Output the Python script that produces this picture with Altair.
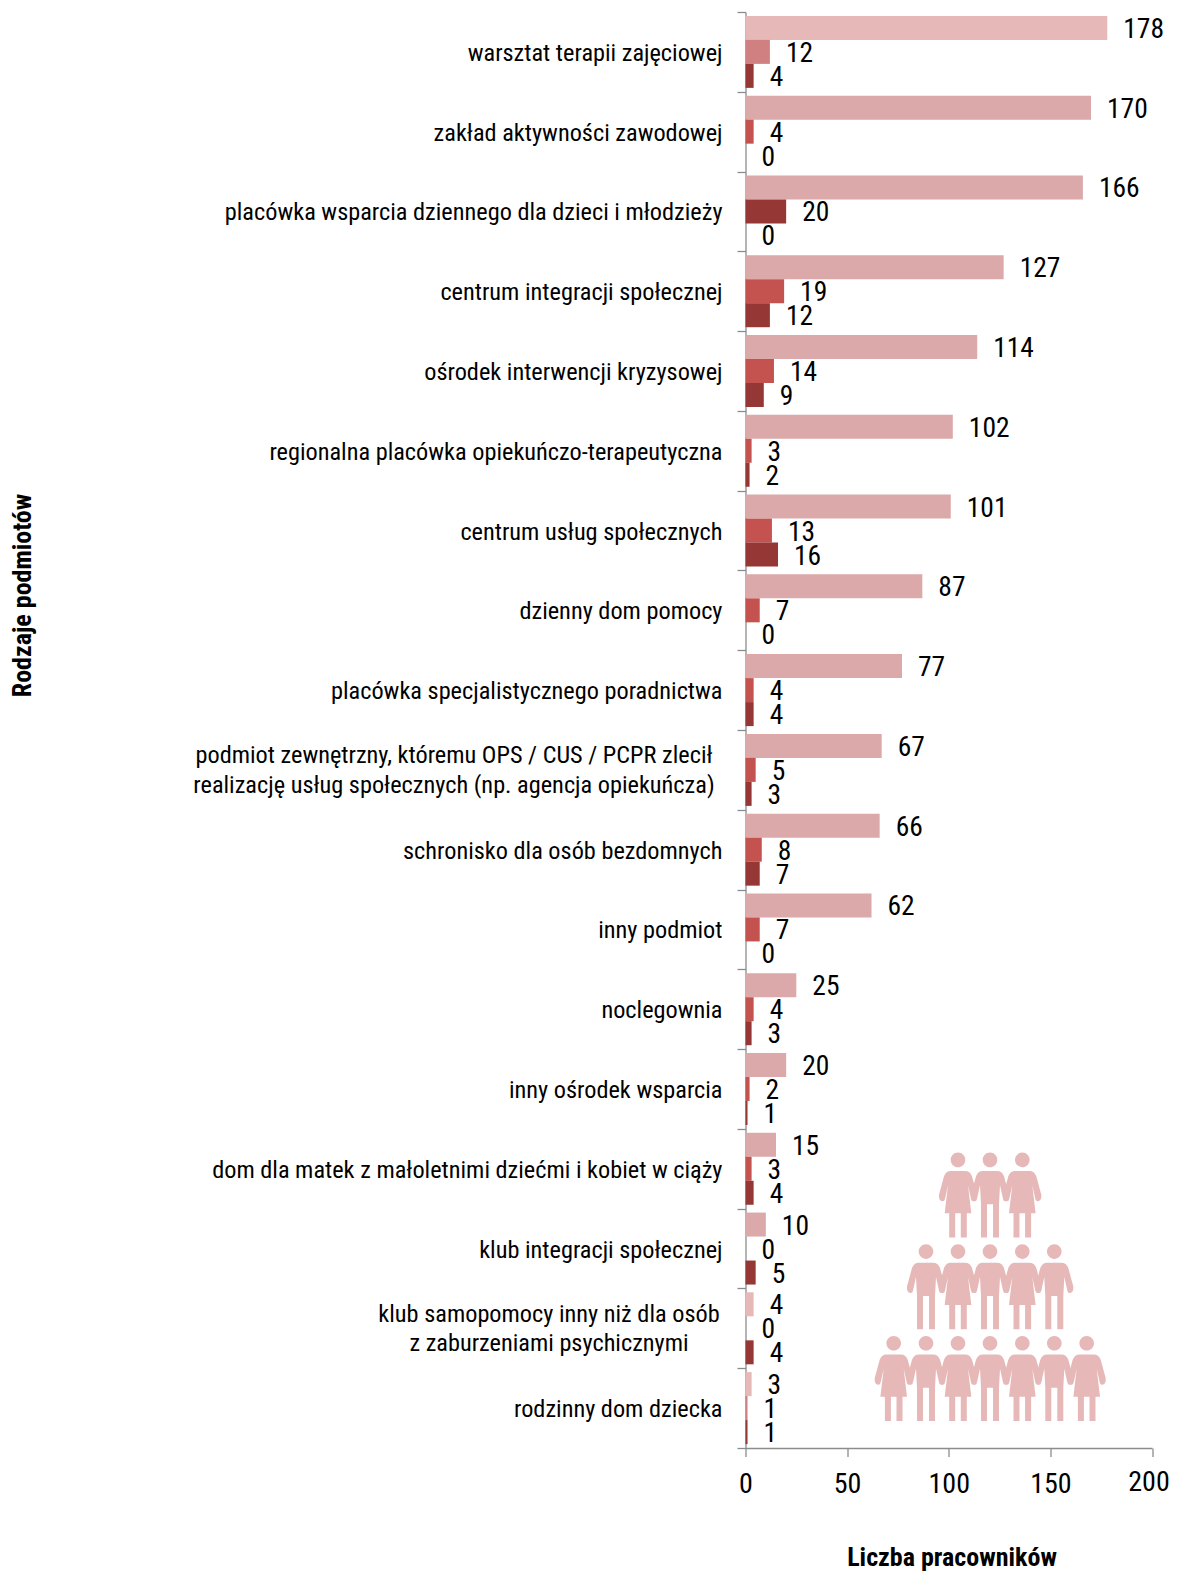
import altair as alt
import pandas as pd

categories = [
    "warsztat terapii zajęciowej",
    "zakład aktywności zawodowej",
    "placówka wsparcia dziennego dla dzieci i młodzieży",
    "centrum integracji społecznej",
    "ośrodek interwencji kryzysowej",
    "regionalna placówka opiekuńczo-terapeutyczna",
    "centrum usług społecznych",
    "dzienny dom pomocy",
    "placówka specjalistycznego poradnictwa",
    "podmiot zewnętrzny, któremu OPS / CUS / PCPR zlecił|realizację usług społecznych (np. agencja opiekuńcza)",
    "schronisko dla osób bezdomnych",
    "inny podmiot",
    "noclegownia",
    "inny ośrodek wsparcia",
    "dom dla matek z małoletnimi dziećmi i kobiet w ciąży",
    "klub integracji społecznej",
    "klub samopomocy inny niż dla osób|z zaburzeniami psychicznymi",
    "rodzinny dom dziecka",
]
series_a = [178, 170, 166, 127, 114, 102, 101, 87, 77, 67, 66, 62, 25, 20, 15, 10, 4, 3]
series_b = [12, 4, 20, 19, 14, 3, 13, 7, 4, 5, 8, 7, 4, 2, 3, 0, 0, 1]
series_c = [4, 0, 0, 12, 9, 2, 16, 0, 4, 3, 7, 0, 3, 1, 4, 5, 4, 1]

FONT = "Roboto Condensed"
A, A_LIGHT, B, B_LIGHT, C = "#DBA9A9", "#E6B8B7", "#C4524F", "#D08080", "#953735"
GRAY = "#8C8C8C"

colors_a = [A_LIGHT] + [A] * 15 + [A_LIGHT] * 2
colors_b = [B_LIGHT] + [B] * 16 + [B_LIGHT]
colors_b[2] = C
colors_c = [C] * 18

rows = []
for i, cat in enumerate(categories):
    rows.append(dict(cat=cat, s="a", v=series_a[i], col=colors_a[i]))
    rows.append(dict(cat=cat, s="b", v=series_b[i], col=colors_b[i]))
    rows.append(dict(cat=cat, s="c", v=series_c[i], col=colors_c[i]))
df = pd.DataFrame(rows)

W, H = 406.5, 1436
x_enc = alt.X(
    "v:Q",
    scale=alt.Scale(domain=[0, 200], nice=False),
    axis=alt.Axis(
        values=[0, 50, 100, 150, 200], grid=False, title="Liczba pracowników",
        titleFont=FONT, titleFontSize=26, titleFontWeight="bold", titleColor="#000",
        titleX=206, titleY=109, titleBaseline="middle",
        labelFont=FONT, labelFontSize=28, labelColor="#000", labelPadding=14,
        labelExpr="datum.value == 200 ? '' : datum.label",
        tickSize=8.5, tickColor=GRAY, domainColor=GRAY, tickWidth=1.3, domainWidth=1.3,
        labelFlush=False, labelOverlap=False,
    ),
)
y_enc = alt.Y(
    "cat:N",
    scale=alt.Scale(domain=categories, paddingInner=0, paddingOuter=0),
    axis=alt.Axis(
        grid=False, title="Rodzaje podmiotów", tickBand="extent",
        titleFont=FONT, titleFontSize=26, titleFontWeight="bold", titleColor="#000",
        titleX=-723, titleY=583, titleBaseline="middle", titleAngle=270,
        labelFont=FONT, labelFontSize=24.3, labelColor="#000", labelPadding=15,
        labelLimit=1000, labelOffset=1.5,
        labelExpr="indexof(datum.label, '|') >= 0 ? '' : datum.label",
        tickSize=8.5, tickColor=GRAY, domainColor=GRAY, tickWidth=1.3, domainWidth=1.3,
    ),
)
off = alt.YOffset("s:N", scale=alt.Scale(domain=["a", "b", "c"], paddingInner=0, paddingOuter=0.1625))

bars = alt.Chart(df).mark_bar().encode(x=x_enc, y=y_enc, yOffset=off, color=alt.Color("col:N", scale=None))
texts = alt.Chart(df).mark_text(align="left", baseline="middle", dx=16, dy=2, font=FONT, fontSize=27.5, color="#000").encode(
    x="v:Q", y="cat:N", yOffset=off, text="v:Q"
)

# last tick label: nudged left so that it stays inside the page
last_tick = alt.Chart(pd.DataFrame({"t": ["200"]})).mark_text(
    align="center", baseline="middle", dx=-3, font=FONT, fontSize=28, color="#000"
).encode(x=alt.datum(200), y=alt.value(H + 35), text="t:N")

# two-line category labels: each block is centred on its own line
line_style = dict(align="center", baseline="middle", font=FONT, fontSize=24.3, color="#000")
wrapped_layers = []
for c, centre in zip([categories[9], categories[16]], [-291.5, -196.5]):
    top, bottom = c.split("|")
    frame = pd.DataFrame([dict(cat=c, first=top, second=bottom)])
    wrapped_layers.append(alt.Chart(frame).mark_text(dy=-13.5, **line_style).encode(
        x=alt.value(centre), y="cat:N", text="first:N"))
    wrapped_layers.append(alt.Chart(frame).mark_text(dy=15.7, **line_style).encode(
        x=alt.value(centre), y="cat:N", text="second:N"))

PERSON = "#E6B8B7"
HEAD = "M-7.3,-35.4A7.3,7.3 0 1,1 7.3,-35.4A7.3,7.3 0 1,1 -7.3,-35.4Z"
LEFT = "M0,-24.3L-7,-24.3Q-12,-24.3 -14,-19L-19,-0.5Q-19.5,5 -16,6Q-13.5,6.5 -13,3.5L-10,-10"
RIGHT = "L10,-10L13,3.5Q13.5,6.5 16,6Q19.5,5 19,-0.5L14,-19Q12,-24.3 7,-24.3Z"
female = HEAD + LEFT + "L-13.3,18L-8.8,18L-8.8,42.3L-2.8,42.3L-2.8,18L2.8,18L2.8,42.3L8.8,42.3L8.8,18L13.3,18" + RIGHT
male = HEAD + LEFT + "L-9,9L-9,42.3L-3,42.3L-3,9L3,9L3,42.3L9,42.3L9,9" + RIGHT

x0, y0 = 745.5, 12
people = []
for head_y, xs, first in [
    (1152.3, [958, 990, 1022.3], "f"),
    (1244, [926, 958, 990, 1022.3, 1054.3], "m"),
    (1335.7, [893.7, 926, 958, 990, 1022.3, 1054.3, 1086.7], "f"),
]:
    for j, px in enumerate(xs):
        is_f = (j % 2 == 0) == (first == "f")
        people.append(
            alt.Chart(df.head(1)).mark_point(
                shape=female if is_f else male, size=4, filled=True, fill=PERSON, opacity=1
            ).encode(x=alt.value(px - x0), y=alt.value(head_y + 43 - y0))
        )

chart = alt.layer(bars, texts, last_tick, *wrapped_layers, *people).properties(
    width=W, height=H,
    autosize=alt.AutoSizeParams(type="none"),
    padding={"left": 737.5, "top": 4, "right": 17, "bottom": 123},
).configure_view(stroke=None)
chart.save("out.html", embed_options={"renderer": "svg", "actions": False})
